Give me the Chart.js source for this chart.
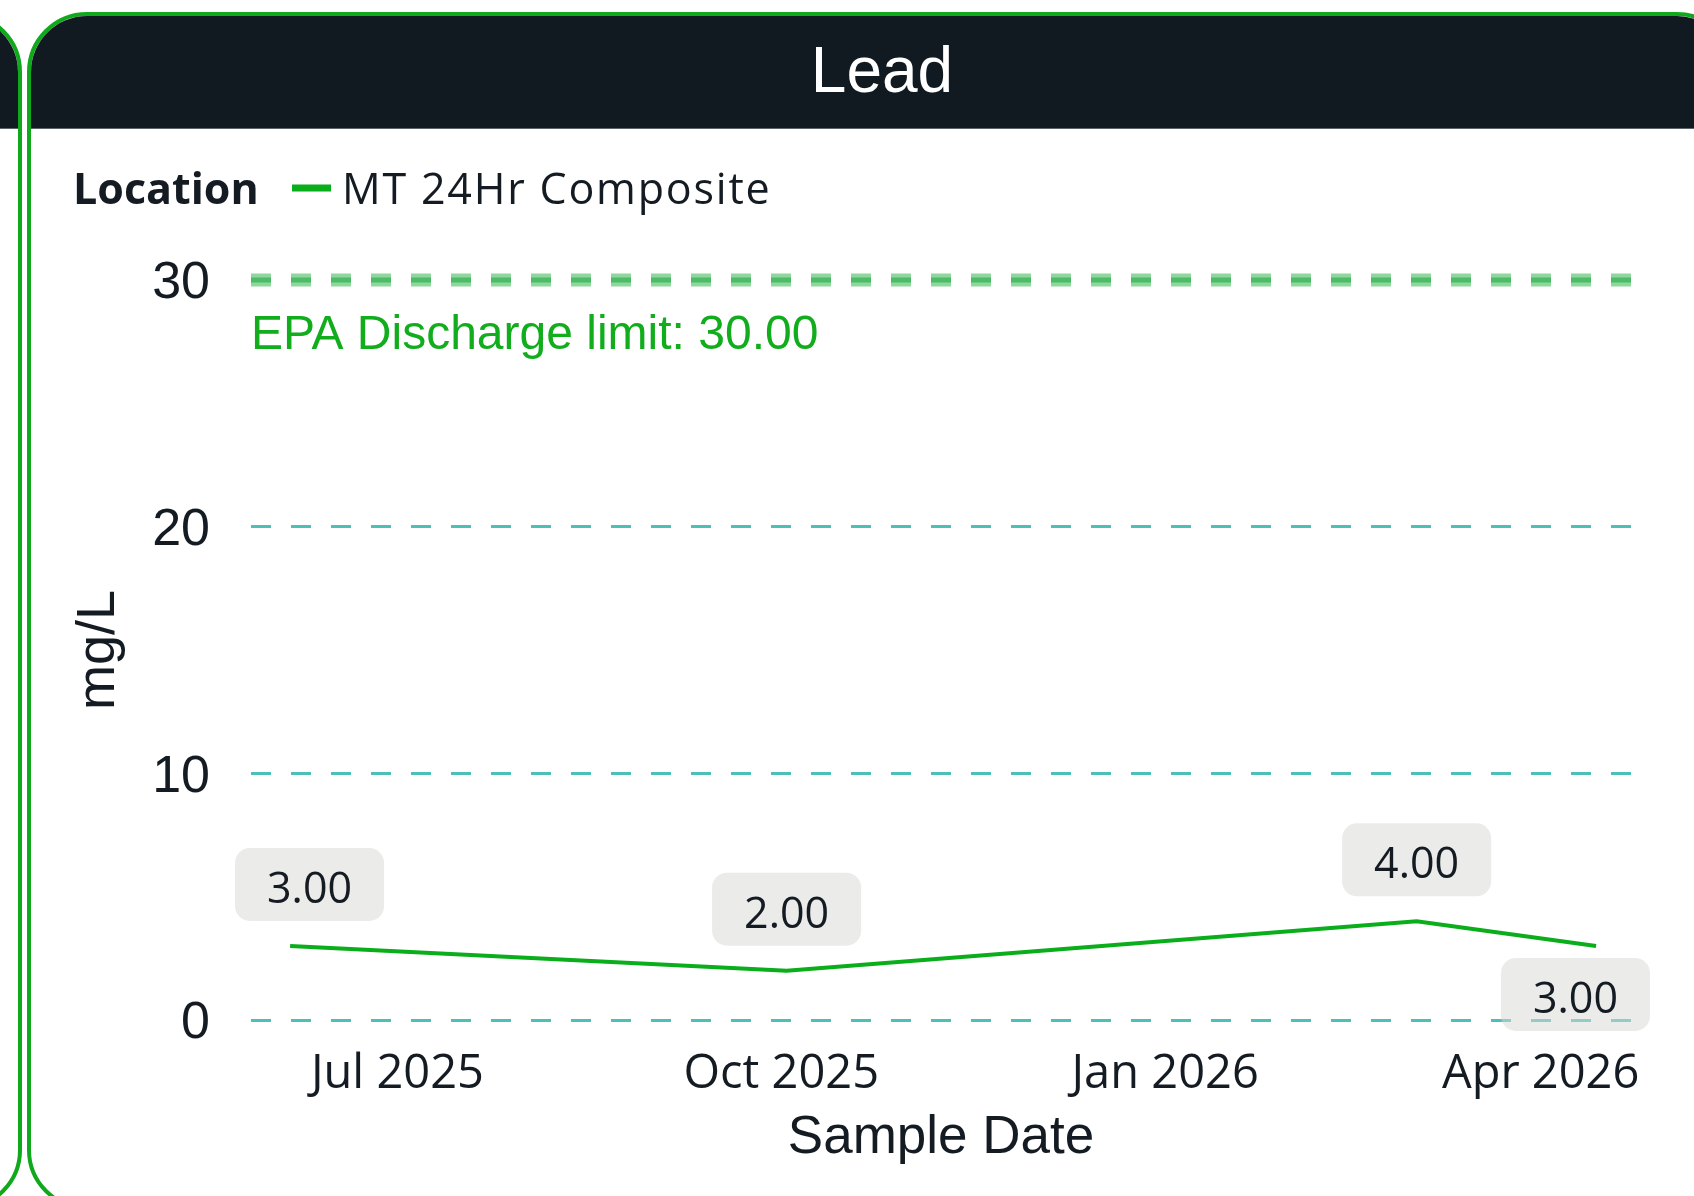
<!DOCTYPE html>
<html>
<head>
<meta charset="utf-8">
<title>Lead</title>
<script src="https://cdn.jsdelivr.net/npm/chart.js@4.4.1/dist/chart.umd.min.js"></script>
<style>
    html, body {
        margin: 0;
        padding: 0;
        width: 1694px;
        height: 1196px;
        overflow: hidden;
        background: #fff;
        position: relative;
    }
    .card {
        position: absolute;
        top: 12px;
        box-sizing: border-box;
        height: 1198px;
        border: 4px solid #10a91c;
        border-radius: 60px;
        overflow: hidden;
        background: #fff;
    }
    .card-prev { left: -1700px; width: 1722px; }
    .card-main { left: 27px; width: 1710px; }
    .card-head {
        height: 112px;
        background: #121a21;
        border-bottom: 1px solid #5d636a;
        color: #fff;
        text-align: center;
        font-family: "Liberation Sans", Arial, sans-serif;
        font-size: 64px;
        line-height: 108px;
    }
    #leadChart {
        position: absolute;
        left: 0;
        top: 114px;
    }
</style>
</head>
<body>
<div class="card card-prev"><div class="card-head"></div></div>
<div class="card card-main">
    <div class="card-head">Lead</div>
    <canvas id="leadChart" width="1663" height="1066"></canvas>
</div>

<script>
// Données
const sampleDates = ['2025-06-06', '2025-10-03', '2026-03-03', '2026-04-15'];
const leadValues = [3, 2, 4, 3];
const xTickDates = ['2025-07-01', '2025-10-01', '2026-01-01', '2026-04-01'];
const xRange = ['2025-05-27T15:00:00Z', '2026-04-23T09:00:00Z'];
const yTickValues = [0, 10, 20, 30];
const seriesName = 'MT 24Hr Composite';
const legendTitle = 'Location';
const epaLimit = 30;
const epaLabel = 'EPA Discharge limit: 30.00';

const MONTHS = ['Jan', 'Feb', 'Mar', 'Apr', 'May', 'Jun', 'Jul', 'Aug', 'Sep', 'Oct', 'Nov', 'Dec'];
const TEXT = '#141b22';
const LINE_GREEN = '#0aad1a';
const GRID_TEAL = '#4cc0b8';

const xValues = sampleDates.map(d => Date.parse(d));
const xTicks = xTickDates.map(d => Date.parse(d));

function fmtDate(ms) {
    const d = new Date(ms);
    return MONTHS[d.getUTCMonth()] + ' ' + d.getUTCFullYear();
}

function roundRect(ctx, x, y, w, h, r) {
    ctx.beginPath();
    ctx.moveTo(x + r, y);
    ctx.arcTo(x + w, y, x + w, y + h, r);
    ctx.arcTo(x + w, y + h, x, y + h, r);
    ctx.arcTo(x, y + h, x, y, r);
    ctx.arcTo(x, y, x + w, y, r);
    ctx.closePath();
}

// Légende, ligne limite EPA et étiquettes de valeurs
const decorPlugin = {
    id: 'leadDecor',
    beforeDraw(chart) {
        const ctx = chart.ctx;
        ctx.save();
        ctx.textBaseline = 'alphabetic';
        ctx.fillStyle = TEXT;
        ctx.font = 'bold 43px "Open Sans"';
        ctx.fillText(legendTitle, 42, 74);
        ctx.fillStyle = LINE_GREEN;
        ctx.fillRect(261, 54.5, 39, 7);
        ctx.fillStyle = TEXT;
        ctx.font = '43px "Open Sans"';
        ctx.letterSpacing = '1.8px';
        ctx.fillText(seriesName, 311, 74);
        ctx.restore();
    },
    afterDatasetsDraw(chart) {
        const {ctx, chartArea, scales} = chart;
        const yPix = scales.y.getPixelForValue(epaLimit);

        // ligne limite
        ctx.save();
        ctx.setLineDash([20, 20]);
        ctx.lineCap = 'butt';
        ctx.beginPath();
        ctx.moveTo(chartArea.left, yPix);
        ctx.lineTo(chartArea.right, yPix);
        ctx.strokeStyle = 'rgba(31,176,58,0.5)';
        ctx.lineWidth = 13;
        ctx.stroke();
        ctx.strokeStyle = 'rgba(31,170,70,0.6)';
        ctx.lineWidth = 5;
        ctx.stroke();
        ctx.setLineDash([]);
        ctx.fillStyle = '#12ad1c';
        ctx.font = '48px "Liberation Sans", Arial';
        ctx.textBaseline = 'alphabetic';
        ctx.fillText(epaLabel, chartArea.left, yPix + 69);
        ctx.restore();

        // étiquettes de valeurs
        const meta = chart.getDatasetMeta(0);
        const boxes = [];
        ctx.save();
        ctx.font = '43px "Open Sans"';
        meta.data.forEach((pt, i) => {
            const text = leadValues[i].toFixed(2);
            const w = ctx.measureText(text).width + 64;
            const h = 73;
            let bx = pt.x - w / 2;
            bx = Math.max(bx, chartArea.left - 16);
            bx = Math.min(bx, chartArea.right + 19 - w);
            let by = pt.y - 25 - h;
            const prev = boxes[boxes.length - 1];
            if (prev && bx - (prev.x + prev.w) < 20 && by < prev.y + prev.h && by + h > prev.y) {
                by = pt.y + 12;
            }
            boxes.push({x: bx, y: by, w: w, h: h, text: text});
        });
        boxes.forEach(b => {
            roundRect(ctx, b.x, b.y, b.w, b.h, 15);
            ctx.fillStyle = 'rgba(215,215,213,0.5)';
            ctx.fill();
            ctx.fillStyle = TEXT;
            ctx.textAlign = 'center';
            ctx.textBaseline = 'alphabetic';
            ctx.fillText(b.text, b.x + b.w / 2, b.y + 55);
        });
        ctx.restore();
    }
};

const chart = new Chart(document.getElementById('leadChart').getContext('2d'), {
    type: 'line',
    data: {
        datasets: [{
            label: seriesName,
            data: xValues.map((x, i) => ({x: x, y: leadValues[i]})),
            borderColor: LINE_GREEN,
            backgroundColor: LINE_GREEN,
            borderWidth: 4,
            pointRadius: 0,
            tension: 0,
            fill: false
        }]
    },
    options: {
        responsive: false,
        animation: false,
        devicePixelRatio: 1,
        layout: {
            padding: {top: 150, right: 63, left: 0, bottom: 0}
        },
        plugins: {
            legend: {display: false},
            tooltip: {enabled: false}
        },
        scales: {
            x: {
                type: 'linear',
                min: Date.parse(xRange[0]),
                max: Date.parse(xRange[1]),
                afterBuildTicks: scale => {
                    scale.ticks = xTicks.map(v => ({value: v}));
                },
                afterFit: scale => { scale.height = 176; },
                grid: {display: false, drawTicks: false},
                border: {display: false},
                ticks: {
                    padding: 26,
                    labelOffset: 3,
                    color: TEXT,
                    autoSkip: false,
                    maxRotation: 0,
                    font: {family: '"Open Sans"', size: 47},
                    callback: value => fmtDate(value)
                },
                title: {
                    display: true,
                    text: 'Sample Date',
                    color: TEXT,
                    padding: {top: 0, bottom: 26},
                    font: {family: '"Liberation Sans", Arial', size: 53}
                }
            },
            y: {
                min: 0,
                max: 30,
                afterBuildTicks: scale => {
                    scale.ticks = yTickValues.map(v => ({value: v}));
                },
                afterFit: scale => { scale.width = 220; },
                grid: {
                    drawTicks: false,
                    lineWidth: 3,
                    color: c => (c.tick && c.tick.value === epaLimit) ? 'rgba(0,0,0,0)' : GRID_TEAL
                },
                border: {display: false, dash: [20, 20]},
                ticks: {
                    padding: 41,
                    labelOffset: 4,
                    color: TEXT,
                    font: {family: '"Liberation Sans", Arial', size: 52}
                },
                title: {
                    display: true,
                    text: 'mg/L',
                    color: TEXT,
                    padding: {top: 36, bottom: 0},
                    font: {family: '"Liberation Sans", Arial', size: 54}
                }
            }
        }
    },
    plugins: [decorPlugin]
});
</script>
</body>
</html>
